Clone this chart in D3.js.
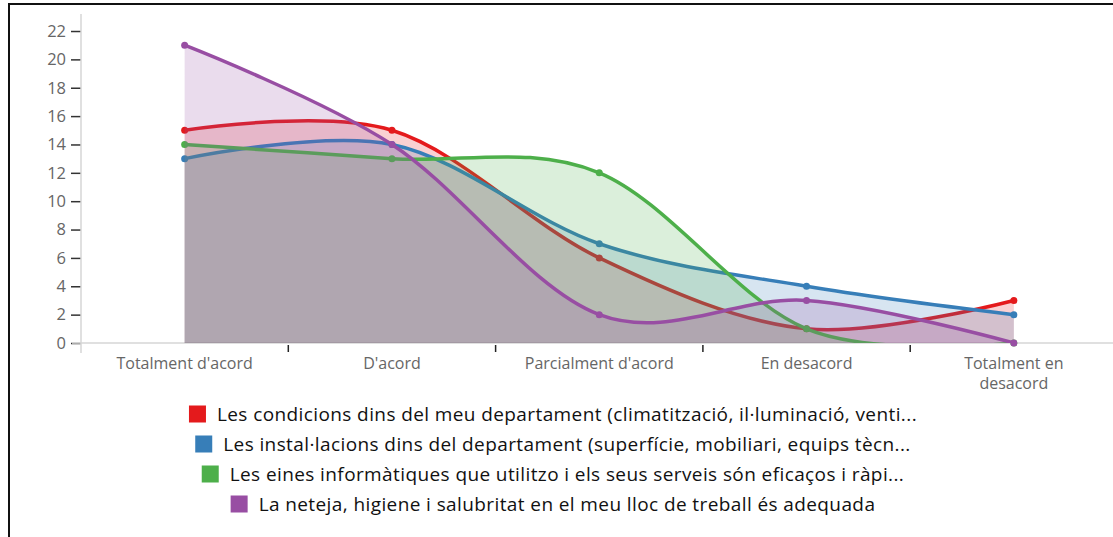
<!DOCTYPE html>
<html>
<head>
<meta charset="utf-8">
<script src="https://cdn.jsdelivr.net/npm/d3@7"></script>
<style>
  body { margin: 0; background: #fff; }
  svg { display: block; font-family: "Open Sans", sans-serif; }
</style>
</head>
<body>
<div id="chart-area"></div>
<script>
// dades
const categories = ["Totalment d'acord", "D'acord", "Parcialment d'acord", "En desacord", "Totalment en desacord"]
const seriesNames = [
  "Les condicions dins del meu departament (climatització, il·luminació, venti...",
  "Les instal·lacions dins del departament (superfície, mobiliari, equips tècn...",
  "Les eines informàtiques que utilitzo i els seus serveis són eficaços i ràpi...",
  "La neteja, higiene i salubritat en el meu lloc de treball és adequada"
]
const condicions = [15, 15, 6, 1, 3]
const installacions = [13, 14, 7, 4, 2]
const eines = [14, 13, 12, 1, 0]
const neteja = [21, 14, 2, 3, 0]
const colors = ["#e41a1c", "#377eb8", "#4daf4a", "#984ea3"]
const yTicks = [0, 2, 4, 6, 8, 10, 12, 14, 16, 18, 20, 22]

const series = [condicions, installacions, eines, neteja].map((values, i) => ({
  name: seriesNames[i],
  color: colors[i],
  values: values.map((v, j) => ({ cat: categories[j], value: v }))
}))

const W = 1113, H = 537
const svg = d3.select("#chart-area").append("svg")
  .attr("width", W)
  .attr("height", H)

// marc negre
svg.append("rect")
  .attr("x", 9).attr("y", 4)
  .attr("width", W + 20).attr("height", H + 20)
  .attr("fill", "none")
  .attr("stroke", "#111")
  .attr("stroke-width", 2)

// escales
const x = d3.scaleBand().domain(categories).range([81, 1117.5]).paddingInner(0).paddingOuter(0)
const cx = d => x(d) + x.bandwidth() / 2
const y = d3.scaleLinear().domain([0, 23.2]).range([343, 14])

// eix y
const yAxis = svg.append("g")
  .attr("transform", "translate(81,0)")
  .call(d3.axisLeft(y).tickValues(yTicks).tickSize(10).tickPadding(5))
yAxis.select(".domain").remove()
yAxis.selectAll(".tick line").attr("stroke", "#333").attr("stroke-width", 1.5)
yAxis.selectAll(".tick text").attr("fill", "#666").attr("font-size", "16.5px")
  .attr("font-family", "'Open Sans', sans-serif")
yAxis.append("line")
  .attr("x1", 0).attr("x2", 0)
  .attr("y1", y.range()[1]).attr("y2", y(0) + 10)
  .attr("stroke", "#d6d6d6").attr("stroke-width", 1.5)

// eix x
const xAxis = svg.append("g")
xAxis.append("line")
  .attr("x1", 72).attr("x2", W)
  .attr("y1", y(0)).attr("y2", y(0))
  .attr("stroke", "#d6d6d6").attr("stroke-width", 1.5)
xAxis.selectAll(".xtick")
  .data(categories.slice(1))
  .join("line")
  .attr("class", "xtick")
  .attr("x1", d => x(d)).attr("x2", d => x(d))
  .attr("y1", y(0) + 2).attr("y2", y(0) + 9)
  .attr("stroke", "#222").attr("stroke-width", 1.5)

const maxLabel = 165
xAxis.selectAll(".xlabel")
  .data(categories)
  .join("text")
  .attr("class", "xlabel")
  .attr("x", d => cx(d))
  .attr("y", y(0) + 26)
  .attr("text-anchor", "middle")
  .attr("fill", "#666")
  .attr("font-size", "16px")
  .each(function(d) {
    const t = d3.select(this)
    const words = d.split(" ")
    let line = []
    let tspan = t.append("tspan").attr("x", cx(d)).attr("dy", 0)
    words.forEach(w => {
      line.push(w)
      tspan.text(line.join(" "))
      if (tspan.node().getComputedTextLength() > maxLabel && line.length > 1) {
        line.pop()
        tspan.text(line.join(" "))
        line = [w]
        tspan = t.append("tspan").attr("x", cx(d)).attr("dy", 20).text(w)
      }
    })
  })

// clip per sota del zero
svg.append("clipPath").attr("id", "plot-clip")
  .append("rect")
  .attr("x", 81).attr("y", 0)
  .attr("width", W).attr("height", y(0))

const area = d3.area()
  .x(d => cx(d.cat))
  .y0(y(0))
  .y1(d => y(d.value))
  .curve(d3.curveCardinal)

const line = d3.line()
  .x(d => cx(d.cat))
  .y(d => y(d.value))
  .curve(d3.curveCardinal)

const plot = svg.append("g")
series.forEach(s => {
  const g = plot.append("g")
  g.append("path")
    .attr("clip-path", "url(#plot-clip)")
    .attr("d", area(s.values))
    .attr("fill", s.color)
    .attr("fill-opacity", 0.2)
  g.append("path")
    .attr("clip-path", "url(#plot-clip)")
    .attr("d", line(s.values))
    .attr("fill", "none")
    .attr("stroke", s.color)
    .attr("stroke-width", 3.5)
  g.selectAll("circle")
    .data(s.values)
    .join("circle")
    .attr("cx", d => cx(d.cat))
    .attr("cy", d => y(d.value))
    .attr("r", 3.5)
    .attr("fill", s.color)
})

// llegenda
const legend = svg.append("g")
series.forEach((s, i) => {
  const row = legend.append("g")
  const txt = row.append("text")
    .attr("x", 28)
    .attr("y", 0)
    .attr("dy", "0.35em")
    .attr("font-size", "19px")
    .attr("letter-spacing", "0.4px")
    .attr("fill", "#111")
    .text(s.name)
  row.append("rect")
    .attr("x", 0).attr("y", -8.5)
    .attr("width", 17).attr("height", 17)
    .attr("fill", s.color)
  const wRow = 28 + txt.node().getComputedTextLength()
  row.attr("transform", `translate(${553 - wRow / 2}, ${414 + i * 30})`)
})
</script>
</body>
</html>
